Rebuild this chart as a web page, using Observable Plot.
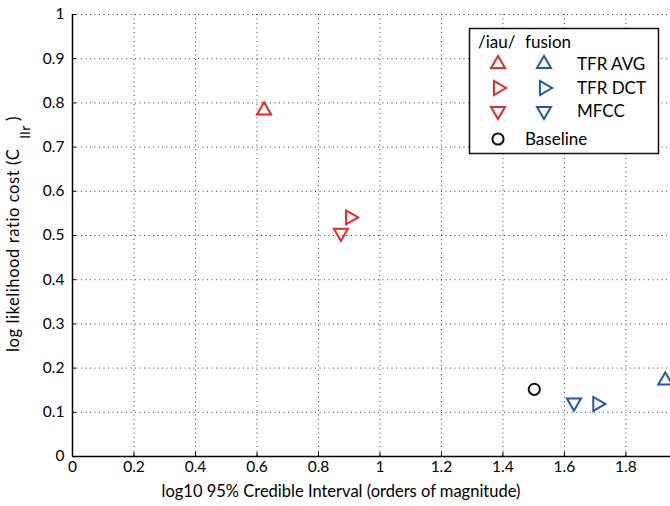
<!DOCTYPE html>
<html>
<head>
<meta charset="utf-8">
<script src="https://cdn.jsdelivr.net/npm/d3@7"></script>
<script src="https://cdn.jsdelivr.net/npm/@observablehq/plot@0.6"></script>
<style>
  html, body { margin: 0; padding: 0; background: #fff; overflow: hidden; }
  #chart { width: 670px; height: 506px; overflow: hidden; }
  svg { font-family: Lato, "Noto Sans", sans-serif; }
</style>
</head>
<body>
<div id="chart"></div>
<script>
// ---- data ----
const features = ["TFR AVG", "TFR DCT", "MFCC"];
const featureRotation = [0, 90, 180];
const iauX = [0.623, 0.903, 0.873];
const iauY = [0.783, 0.541, 0.506];
const fusionX = [1.928, 1.707, 1.631];
const fusionY = [0.172, 0.119, 0.122];
const baselineX = [1.502];
const baselineY = [0.152];
const xTicks = [0, 0.2, 0.4, 0.6, 0.8, 1, 1.2, 1.4, 1.6, 1.8];
const yTicks = [0, 0.1, 0.2, 0.3, 0.4, 0.5, 0.6, 0.7, 0.8, 0.9, 1];

const red = "#e8262b";
const blue = "#2357a8";

const iau = features.map((f, i) => ({feature: f, x: iauX[i], y: iauY[i], rot: featureRotation[i]}));
const fusion = features.map((f, i) => ({feature: f, x: fusionX[i], y: fusionY[i], rot: featureRotation[i]}));
const baseline = baselineX.map((x, i) => ({x, y: baselineY[i]}));

const W = 670, H = 506;
const mL = 72, mT = 14, mB = 50, mR = 0;
const fmt = d => String(+d.toFixed(1));

const plot = Plot.plot({
  width: W, height: H,
  marginLeft: mL, marginTop: mT, marginBottom: mB, marginRight: mR,
  style: {fontSize: "15px", fontFamily: "Lato, 'Noto Sans', sans-serif", color: "#000", background: "#fff", overflow: "hidden"},
  x: {domain: [0, 1.945], label: null},
  y: {domain: [0, 1], label: null},
  marks: [
    Plot.gridX(xTicks.filter(d => d > 0), {stroke: "#000", strokeOpacity: 0.75, strokeDasharray: "1,3.5", strokeWidth: 1}),
    Plot.gridY(yTicks.filter(d => d > 0), {stroke: "#000", strokeOpacity: 0.75, strokeDasharray: "1,3.5", strokeWidth: 1}),
    Plot.tickX(xTicks, {x: d => d, stroke: "#000", strokeWidth: 1, insetTop: H - mT - mB - 4}),
    Plot.tickY(yTicks, {y: d => d, stroke: "#000", strokeWidth: 1, insetRight: W - mL - mR - 4}),
    Plot.ruleX([0], {stroke: "#000", strokeWidth: 1.5}),
    Plot.ruleY([0], {stroke: "#000", strokeWidth: 1.5}),
    Plot.axisX(xTicks, {tickSize: 0, tickPadding: 4, tickFormat: fmt, fontSize: 15.5}),
    Plot.axisY(yTicks, {tickSize: 0, tickPadding: 8, tickFormat: fmt, fontSize: 15.5}),
    Plot.dot(iau, {x: "x", y: "y", symbol: "triangle", rotate: "rot", r: 5.2, stroke: red, strokeWidth: 2, fill: "none"}),
    Plot.dot(fusion, {x: "x", y: "y", symbol: "triangle", rotate: "rot", r: 5.2, stroke: blue, strokeWidth: 2, fill: "none"}),
    Plot.dot(baseline, {x: "x", y: "y", symbol: "circle", r: 5.6, stroke: "#111", strokeWidth: 2, fill: "none"})
  ]
});
document.getElementById("chart").appendChild(plot);

const svg = d3.select(plot);

// x label
svg.append("text")
  .attr("x", 341).attr("y", 497)
  .attr("text-anchor", "middle")
  .attr("font-size", 16.5).attr("fill", "#000")
  .text("log10 95% Credible Interval (orders of magnitude)");

// y label with subscript
const yl = svg.append("text")
  .attr("transform", "translate(19,352) rotate(-90)")
  .attr("text-anchor", "start")
  .attr("font-size", 16.5).attr("letter-spacing", 0.6).attr("fill", "#000");
yl.append("tspan").text("log likelihood ratio cost (C");
yl.append("tspan").attr("dx", 10).attr("dy", 11).attr("font-size", 14).text("llr");
yl.append("tspan").attr("dx", 4).attr("dy", -11).text(")");

// legend
const lg = svg.append("g").attr("text-anchor", "start");
lg.append("rect").attr("x", 469.5).attr("y", 28.5).attr("width", 189).attr("height", 125)
  .attr("fill", "#fff").attr("stroke", "#111").attr("stroke-width", 1.5);
lg.append("text").attr("x", 478).attr("y", 48).attr("text-anchor", "start").attr("font-size", 17).attr("fill", "#000").text("/iau/");
lg.append("text").attr("x", 525).attr("y", 48).attr("text-anchor", "start").attr("font-size", 17).attr("fill", "#000").text("fusion");
const tri = d3.symbol(d3.symbolTriangle, Math.PI * 5.2 * 5.2)();
const rowsY = [64, 88, 111];
features.forEach((f, i) => {
  lg.append("path").attr("d", tri)
    .attr("transform", `translate(498,${rowsY[i]}) rotate(${featureRotation[i]})`)
    .attr("fill", "none").attr("stroke", red).attr("stroke-width", 2);
  lg.append("path").attr("d", tri)
    .attr("transform", `translate(544,${rowsY[i]}) rotate(${featureRotation[i]})`)
    .attr("fill", "none").attr("stroke", blue).attr("stroke-width", 2);
  lg.append("text").attr("x", 577).attr("y", rowsY[i] + 6).attr("text-anchor", "start").attr("font-size", 17).attr("fill", "#000").text(f);
});
lg.append("circle").attr("cx", 498).attr("cy", 139).attr("r", 5.6)
  .attr("fill", "none").attr("stroke", "#111").attr("stroke-width", 2);
lg.append("text").attr("x", 525).attr("y", 145).attr("text-anchor", "start").attr("font-size", 17).attr("fill", "#000").text("Baseline");
</script>
</body>
</html>
